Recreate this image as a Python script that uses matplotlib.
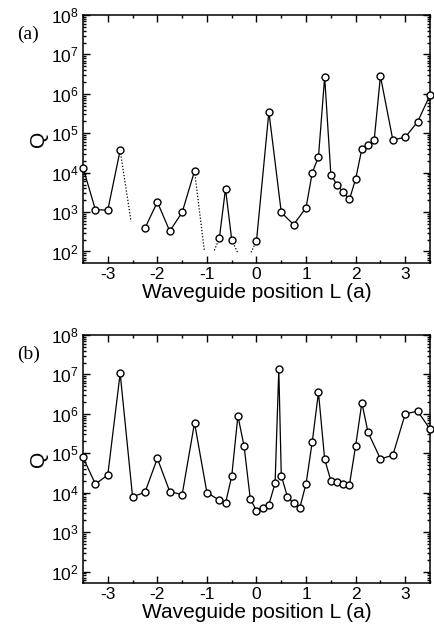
import matplotlib

matplotlib.use("Agg")
import matplotlib.pyplot as plt
from matplotlib.ticker import LogLocator, MultipleLocator, NullFormatter

# panel (a): solid-line runs of computed Q values
a_runs_L = [
    [-3.5, -3.25, -3.0, -2.75],
    [-2.25, -2.0, -1.75, -1.5, -1.25],
    [-0.75, -0.625, -0.5],
    [0.0, 0.25, 0.5, 0.75, 1.0, 1.125, 1.25, 1.375, 1.5, 1.625, 1.75, 1.875,
     2.0, 2.125, 2.25, 2.375, 2.5, 2.75, 3.0, 3.25, 3.5],
]
a_runs_Q = [
    [1.35e4, 1.15e3, 1.12e3, 3.7e4],
    [390, 1.8e3, 330, 980, 1.1e4],
    [215, 3.9e3, 200],
    [185, 3.5e5, 980, 480, 1.3e3, 1.0e4, 2.5e4, 2.7e6, 8.9e3, 4.9e3, 3.2e3, 2.1e3,
     6.9e3, 4.0e4, 5.0e4, 6.9e4, 2.8e6, 6.8e4, 7.9e4, 1.95e5, 9.3e5],
]
# panel (a): dotted stubs running toward off-scale values
a_dot_L = [[-2.75, -2.53], [-1.25, -1.05], [-0.85, -0.75], [-0.5, -0.38], [-0.11, 0.0]]
a_dot_Q = [[3.7e4, 575], [1.1e4, 100], [107, 215], [200, 93], [95, 185]]

# panel (b)
b_L = [-3.5, -3.25, -3.0, -2.75, -2.5, -2.25, -2.0, -1.75, -1.5, -1.25, -1.0,
       -0.75, -0.625, -0.5, -0.375, -0.25, -0.125, 0.0, 0.125, 0.25, 0.375, 0.45,
       0.5, 0.625, 0.75, 0.875, 1.0, 1.125, 1.25, 1.375, 1.5, 1.625, 1.75, 1.875,
       2.0, 2.125, 2.25, 2.5, 2.75, 3.0, 3.25, 3.5]
b_Q = [7.9e4, 1.66e4, 2.8e4, 1.07e7, 7.9e3, 1.02e4, 7.4e4, 1.07e4, 8.9e3, 5.9e5, 1.0e4,
       6.5e3, 5.4e3, 2.6e4, 8.9e5, 1.5e5, 6.9e3, 3.5e3, 4.2e3, 5.0e3, 1.74e4, 1.35e7,
       2.7e4, 7.8e3, 5.4e3, 4.2e3, 1.7e4, 1.95e5, 3.5e6, 7.1e4, 2.0e4, 1.9e4, 1.7e4, 1.6e4,
       1.55e5, 1.9e6, 3.4e5, 7.2e4, 8.9e4, 1.0e6, 1.17e6, 4.1e5]

plt.rcParams["font.family"] = ["Liberation Sans", "DejaVu Sans"]
plt.rcParams["mathtext.fontset"] = "custom"
plt.rcParams["mathtext.rm"] = "Liberation Sans"
plt.rcParams["mathtext.it"] = "Liberation Sans:italic"
plt.rcParams["axes.unicode_minus"] = False

line_kw = dict(color="black", lw=0.9, marker="o", ms=5, mfc="white", mec="black",
               mew=1.0, clip_on=False, zorder=3)

fig = plt.figure(figsize=(4.34, 6.31), dpi=100)
ax_a = fig.add_axes([0.1912, 0.5837, 0.7996, 0.3925])
ax_b = fig.add_axes([0.1912, 0.0765, 0.7996, 0.3926])

for L, Q in zip(a_dot_L, a_dot_Q):
    ax_a.plot(L, Q, color="black", lw=0.9, ls=(0, (1, 1.5)))
for L, Q in zip(a_runs_L, a_runs_Q):
    ax_a.plot(L, Q, **line_kw)
ax_b.plot(b_L, b_Q, **line_kw)

for ax, tag in [(ax_a, "(a)"), (ax_b, "(b)")]:
    ax.set_yscale("log")
    ax.set_xlim(-3.5, 3.5)
    ax.set_ylim(52, 1e8)
    ax.xaxis.set_major_locator(MultipleLocator(1))
    ax.xaxis.set_minor_locator(MultipleLocator(0.5))
    ax.yaxis.set_major_locator(LogLocator(base=10, numticks=10))
    ax.yaxis.set_minor_locator(LogLocator(base=10, subs=range(2, 10), numticks=10))
    ax.yaxis.set_minor_formatter(NullFormatter())
    ax.tick_params(which="both", direction="in", top=True, right=True, width=1.0)
    ax.tick_params(which="major", length=5, labelsize=12.5, pad=3)
    ax.tick_params(which="minor", length=2.5)
    for s in ax.spines.values():
        s.set_linewidth(1.1)
    ax.set_xlabel("Waveguide position L (a)", fontsize=15, labelpad=0.5)
    ax.set_ylabel("Q", fontsize=15, labelpad=2)
    fig.text(0.04, ax.get_position().y1 - 0.03, tag, fontsize=14,
             family=["Liberation Serif", "DejaVu Serif"], va="center")

fig.savefig("out.png", dpi=100)
